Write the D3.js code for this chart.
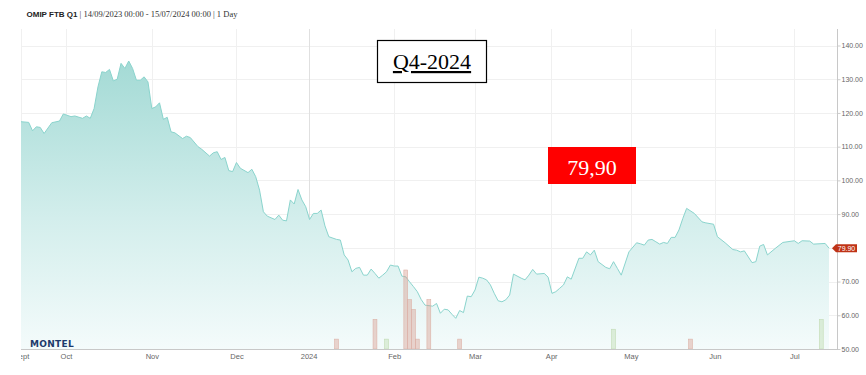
<!DOCTYPE html>
<html>
<head>
<meta charset="utf-8">
<script src="https://cdn.jsdelivr.net/npm/d3@7"></script>
<style>
  body { margin: 0; background: #fff; }
  #container { width: 866px; height: 375px; }
  .tick text { font-family: "Liberation Sans", Arial, sans-serif; fill: #666; }
</style>
</head>
<body>
<div id="container"></div>
<script>
// Trading calendar: weekdays between first and last session, minus holidays
var firstDay = "2023-09-14"
var lastDay = "2024-07-12"
var holidays = ["2023-12-25", "2023-12-26", "2024-01-01", "2024-03-29", "2024-04-01", "2024-05-01"]

// Daily settlement prices (EUR/MWh)
var priceDates = [
  "2023-09-14","2023-09-18","2023-09-19","2023-09-20","2023-09-21","2023-09-22","2023-09-26","2023-09-28","2023-09-29",
  "2023-10-03","2023-10-04","2023-10-06","2023-10-09","2023-10-10","2023-10-11","2023-10-12","2023-10-13","2023-10-16",
  "2023-10-17","2023-10-18","2023-10-19","2023-10-20","2023-10-23","2023-10-24","2023-10-25","2023-10-26","2023-10-27",
  "2023-10-30","2023-10-31","2023-11-01","2023-11-02","2023-11-03","2023-11-06","2023-11-07","2023-11-08","2023-11-09",
  "2023-11-13","2023-11-14","2023-11-15","2023-11-17","2023-11-20","2023-11-22","2023-11-23","2023-11-24","2023-11-27",
  "2023-11-28","2023-11-29","2023-11-30","2023-12-01","2023-12-04","2023-12-06","2023-12-07","2023-12-08","2023-12-11",
  "2023-12-12","2023-12-13","2023-12-15","2023-12-18","2023-12-19","2023-12-20","2023-12-21","2023-12-22","2023-12-27",
  "2023-12-28","2023-12-29","2024-01-02","2024-01-03","2024-01-04","2024-01-05","2024-01-08","2024-01-09","2024-01-11",
  "2024-01-12","2024-01-15","2024-01-16","2024-01-17","2024-01-18","2024-01-19","2024-01-22","2024-01-23","2024-01-24",
  "2024-01-25","2024-01-26","2024-01-29","2024-01-30","2024-01-31","2024-02-01","2024-02-02","2024-02-05","2024-02-06",
  "2024-02-07","2024-02-08","2024-02-09","2024-02-12","2024-02-13","2024-02-15","2024-02-16","2024-02-19","2024-02-20",
  "2024-02-21","2024-02-22","2024-02-23","2024-02-26","2024-02-27","2024-02-28","2024-02-29","2024-03-01","2024-03-04",
  "2024-03-05","2024-03-06","2024-03-07","2024-03-08","2024-03-11","2024-03-12","2024-03-13","2024-03-14","2024-03-15",
  "2024-03-19","2024-03-20","2024-03-21","2024-03-22","2024-03-25","2024-03-27","2024-03-28","2024-04-02","2024-04-03",
  "2024-04-04","2024-04-05","2024-04-08","2024-04-09","2024-04-11","2024-04-12","2024-04-15","2024-04-16","2024-04-17",
  "2024-04-18","2024-04-22","2024-04-23","2024-04-24","2024-04-25","2024-04-26","2024-04-30","2024-05-03","2024-05-06",
  "2024-05-07","2024-05-08","2024-05-09","2024-05-10","2024-05-13","2024-05-14","2024-05-15","2024-05-16","2024-05-17",
  "2024-05-20","2024-05-21","2024-05-22","2024-05-24","2024-05-28","2024-05-29","2024-05-31","2024-06-03","2024-06-05",
  "2024-06-07","2024-06-10","2024-06-11","2024-06-12","2024-06-14","2024-06-17","2024-06-18","2024-06-19","2024-06-20",
  "2024-06-24","2024-06-26","2024-07-01","2024-07-02","2024-07-03","2024-07-05","2024-07-08","2024-07-11","2024-07-12"
]
var priceValues = [
  117.4,117.2,114.7,115.9,115.7,113.9,117.1,117.6,119.7,
  118.9,119.1,118.4,119.1,118.4,121.3,127.7,132.2,132.0,
  132.9,129.5,130.0,134.7,133.2,135.4,133.2,129.7,129.7,
  130.7,129.2,121.3,121.8,123.0,118.1,118.7,114.4,114.1,
  112.4,113.1,112.7,110.0,109.2,107.2,108.2,108.5,106.2,
  106.8,102.9,102.6,105.3,103.6,102.3,103.3,101.1,97.1,
  90.7,89.4,88.4,89.7,88.2,88.0,94.2,93.0,97.3,
  94.2,92.2,88.4,90.2,90.2,91.2,86.5,83.3,82.5,
  82.3,77.9,76.4,72.9,73.9,74.2,71.9,71.9,73.7,
  72.4,71.0,71.9,72.9,74.9,74.6,74.6,71.6,71.4,
  69.9,68.5,67.0,64.7,63.0,62.7,63.5,60.6,61.8,
  61.6,60.3,59.1,61.4,60.8,65.7,65.5,67.5,71.3,
  71.0,70.5,69.0,66.5,64.3,64.0,64.6,66.0,72.2,
  71.0,70.5,71.9,73.6,72.2,72.4,71.3,66.5,67.0,
  68.0,69.0,71.4,70.7,76.9,76.9,78.8,77.9,79.3,
  75.9,74.2,73.8,75.9,73.9,71.9,78.8,81.5,81.2,
  80.8,82.3,82.5,81.8,81.1,81.6,81.3,83.1,83.1,
  85.3,88.7,91.7,90.2,87.7,87.4,87.0,83.3,81.5,
  79.5,79.3,78.8,79.1,75.6,75.9,80.5,81.0,77.9,
  79.8,81.6,82.1,81.3,82.1,82.0,81.1,81.3,79.9
]

// Traded volume bars (up = green, down = red)
var volDates = ["2024-01-11","2024-01-25","2024-01-30","2024-02-06","2024-02-07","2024-02-08","2024-02-09","2024-02-14","2024-02-26","2024-04-24","2024-05-23","2024-07-10"]
var volValues = [1, 3, 1, 8, 5, 4, 1, 5, 1, 2, 1, 3]
var volUp = [false, false, true, false, false, false, false, false, false, true, false, true]

// Axis ticks
var monthStarts = ["2023-09-01","2023-10-01","2023-11-01","2023-12-01","2024-01-01","2024-02-01","2024-03-01","2024-04-01","2024-05-01","2024-06-01","2024-07-01"]
var monthLabels = ["Sept","Oct","Nov","Dec","2024","Feb","Mar","Apr","May","Jun","Jul"]
var priceTicks = [50, 60, 70, 80, 90, 100, 110, 120, 130, 140]

// Dimensions
var width = 866
var height = 375
var plot = {left: 21, right: 829, axisX: 837, top: 29, bottom: 349}

var parse = d3.utcParse("%Y-%m-%d")

// Build the list of trading sessions (ordinal x axis like a stock chart)
var holidaySet = new Set(holidays)
var days = d3.utcDay.range(parse(firstDay), d3.utcDay.offset(parse(lastDay), 1))
             .filter((d) => d.getUTCDay() != 0 && d.getUTCDay() != 6 && !holidaySet.has(d3.utcFormat("%Y-%m-%d")(d)))

// Position of any date on the session axis (interpolated between sessions)
function sessionIndex(s) {
  var t = parse(s)
  var i = d3.bisectLeft(days, t)
  if (i == 0) return 0
  if (i < days.length && +days[i] == +t) return i
  return i - 1 + (t - days[i-1]) / (days[i] - days[i-1])
}

var svg = d3.select("#container")
            .append("svg")
            .attr("width", width)
            .attr("height", height)
            .style("font-family", "Liberation Sans, Arial, sans-serif")

// Scales
var xScale = d3.scaleLinear()
               .domain([0, days.length - 1])
               .range([plot.left, plot.right])

var yScale = d3.scaleLinear()
               .domain([50, 140])
               .range([plot.bottom, 45.5])

var volScale = d3.scaleLinear()
                 .domain([0, 8])
                 .range([plot.bottom, 270])

var tickPos = monthStarts.map(sessionIndex)

// Horizontal grid lines
svg.append("g").selectAll("line")
   .data(priceTicks)
   .enter()
   .append("line")
   .attr("x1", plot.left)
   .attr("x2", plot.axisX)
   .attr("y1", (d) => Math.round(yScale(d)) + 0.5)
   .attr("y2", (d) => Math.round(yScale(d)) + 0.5)
   .attr("stroke", "#f0f0f0")

// Vertical grid lines at month starts, the new year a bit darker
svg.append("g").selectAll("line")
   .data(tickPos)
   .enter()
   .append("line")
   .attr("x1", (d) => Math.round(xScale(d)) + 0.5)
   .attr("x2", (d) => Math.round(xScale(d)) + 0.5)
   .attr("y1", plot.top)
   .attr("y2", plot.bottom)
   .attr("stroke", (d, i) => monthLabels[i] == "2024" ? "#e0e0e0" : "#f0f0f0")

// Area gradient
var grad = svg.append("defs")
              .append("linearGradient")
              .attr("id", "areaGrad")
              .attr("gradientUnits", "userSpaceOnUse")
              .attr("x1", 0).attr("x2", 0)
              .attr("y1", yScale(136)).attr("y2", yScale(50))
grad.append("stop").attr("offset", "0%").attr("stop-color", "#a3dad5")
grad.append("stop").attr("offset", "55%").attr("stop-color", "#d3eeec")
grad.append("stop").attr("offset", "100%").attr("stop-color", "#f4fbfb")

var points = priceDates.map((d, i) => ({idx: sessionIndex(d), value: priceValues[i]}))

var area = d3.area()
             .x((d) => xScale(d.idx))
             .y0(yScale(50))
             .y1((d) => yScale(d.value))

var line = d3.line()
             .x((d) => xScale(d.idx))
             .y((d) => yScale(d.value))

svg.append("path")
   .datum(points)
   .attr("d", area)
   .attr("fill", "url(#areaGrad)")

svg.append("path")
   .datum(points)
   .attr("d", line)
   .attr("fill", "none")
   .attr("stroke", "#8ad4cd")
   .attr("stroke-width", 1)

// Volume bars
var barWidth = xScale(1) - xScale(0)
svg.append("g").selectAll("rect")
   .data(volDates)
   .enter()
   .append("rect")
   .attr("x", (d) => xScale(sessionIndex(d)) - barWidth / 2)
   .attr("y", (d, i) => volScale(volValues[i]))
   .attr("width", barWidth)
   .attr("height", (d, i) => volScale(0) - volScale(volValues[i]))
   .attr("fill", (d, i) => volUp[i] ? "rgba(200,225,190,0.55)" : "rgba(215,150,135,0.4)")
   .attr("stroke", (d, i) => volUp[i] ? "#c2dbb4" : "#dcb2a7")
   .attr("stroke-width", 0.6)

// Logo
svg.append("text")
   .attr("x", 30)
   .attr("y", 347)
   .attr("font-family", "DejaVu Sans, sans-serif")
   .attr("font-weight", "bold")
   .attr("font-size", "9px")
   .attr("letter-spacing", "0.3px")
   .attr("fill", "#1d3a6b")
   .text("MONTEL")

// X axis (clipped at the plot's left edge, like the cut "Sept" label)
svg.append("clipPath")
   .attr("id", "xclip")
   .append("rect")
   .attr("x", plot.left)
   .attr("y", -5)
   .attr("width", width - plot.left)
   .attr("height", 30)

var xAxis = d3.axisBottom(xScale)
              .tickValues(tickPos)
              .tickFormat((d, i) => monthLabels[i])
              .tickSize(0)
              .tickPadding(4)

var gx = svg.append("g")
            .attr("transform", "translate(0," + (plot.bottom + 0.5) + ")")
            .attr("clip-path", "url(#xclip)")
            .call(xAxis)
gx.select(".domain").remove()
gx.selectAll("text").attr("font-size", "7.5px")

svg.append("line")
   .attr("x1", plot.left).attr("x2", plot.axisX)
   .attr("y1", plot.bottom + 0.5).attr("y2", plot.bottom + 0.5)
   .attr("stroke", "#c8c8c8")

// Right price axis
var lastVal = priceValues[priceValues.length - 1]
var fy = yScale(lastVal)

var yAxis = d3.axisRight(yScale)
              .tickValues(priceTicks)
              .tickFormat(d3.format(".2f"))
              .tickSize(3)
              .tickPadding(1)

var gy = svg.append("g")
            .attr("transform", "translate(" + (plot.axisX + 0.5) + ",0)")
            .call(yAxis)
gy.select(".domain").remove()
gy.selectAll("line").attr("stroke", "#ccc")
gy.selectAll("text").attr("font-size", "7px")
// the label hidden under the last price flag
gy.selectAll(".tick").filter((d) => Math.abs(yScale(d) - fy) < 8).select("text").remove()

svg.append("line")
   .attr("x1", plot.axisX + 0.5).attr("x2", plot.axisX + 0.5)
   .attr("y1", plot.top).attr("y2", plot.bottom + 1)
   .attr("stroke", "#c8c8c8")

// Last price flag
svg.append("path")
   .attr("d", "M" + 832 + "," + fy + "l4,-4h21v8h-21z")
   .attr("fill", "#bf3316")
svg.append("text")
   .attr("x", 846.5)
   .attr("y", fy + 2.5)
   .attr("text-anchor", "middle")
   .attr("font-size", "7px")
   .attr("fill", "#fff")
   .text(d3.format(".2f")(lastVal))

// Header
var header = svg.append("text")
                .attr("x", 26.5)
                .attr("y", 17)
                .attr("font-size", "8px")
                .attr("fill", "#222")
header.append("tspan")
      .attr("font-weight", "bold")
      .attr("font-family", "Liberation Sans, Arial, sans-serif")
      .text("OMIP FTB Q1")
header.append("tspan")
      .attr("font-family", "Liberation Serif, serif")
      .attr("font-size", "8.5px")
      .attr("fill", "#333")
      .text(" | 14/09/2023 00:00 - 15/07/2024 00:00 | 1 Day")

// Contract label box
svg.append("rect")
   .attr("x", 377.5).attr("y", 40.5)
   .attr("width", 109).attr("height", 42)
   .attr("fill", "#fff")
   .attr("stroke", "#000")
   .attr("stroke-width", 1.2)
svg.append("text")
   .attr("x", 432)
   .attr("y", 69)
   .attr("text-anchor", "middle")
   .attr("font-family", "Liberation Serif, serif")
   .attr("font-size", "22px")
   .attr("text-decoration", "underline")
   .attr("fill", "#000")
   .text("Q4-2024")

// Price label box
svg.append("rect")
   .attr("x", 548).attr("y", 147)
   .attr("width", 88).attr("height", 37)
   .attr("fill", "#ff0000")
svg.append("text")
   .attr("x", 592)
   .attr("y", 175)
   .attr("text-anchor", "middle")
   .attr("font-family", "Liberation Serif, serif")
   .attr("font-size", "22px")
   .attr("fill", "#fff")
   .text("79,90")
</script>
</body>
</html>
